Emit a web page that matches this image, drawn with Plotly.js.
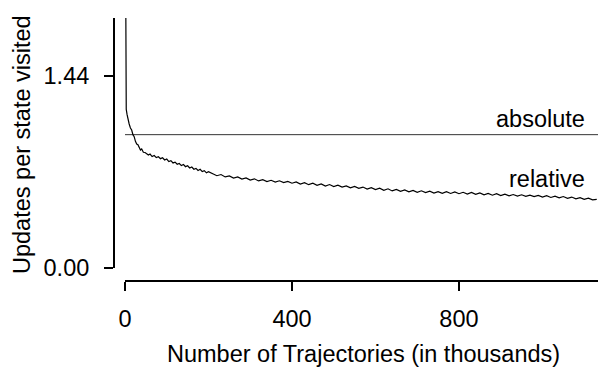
<!DOCTYPE html>
<html>
<head>
<meta charset="utf-8">
<script src="https://cdn.plot.ly/plotly-3.0.1.min.js"></script>
<style>html,body{margin:0;padding:0;background:#fff;}#chart{width:598px;height:368px;}</style>
</head>
<body>
<div id="chart"></div>
<script>
// Number of trajectories (thousands)
const relativeX = [1, 2, 3, 5, 7, 10, 13, 16, 19, 22, 25, 28, 31, 34, 37, 40, 44, 48, 52, 56, 60, 65, 70,
  75, 80, 85, 90, 95, 100, 105, 110, 115, 120, 125, 130, 135, 140, 145, 150, 155, 160, 165, 170, 175, 180,
  185, 190, 195, 200, 210, 220, 230, 240, 250, 260, 270, 280, 290, 300, 310, 320, 330, 340, 350, 360, 370,
  380, 390, 400, 410, 420, 430, 440, 450, 460, 470, 480, 490, 500, 510, 520, 530, 540, 550, 560, 570, 580,
  590, 600, 610, 620, 630, 640, 650, 660, 670, 680, 690, 700, 710, 720, 730, 740, 750, 760, 770, 780, 790,
  800, 810, 820, 830, 840, 850, 860, 870, 880, 890, 900, 910, 920, 930, 940, 950, 960, 970, 980, 990, 1000,
  1010, 1020, 1030, 1040, 1050, 1060, 1070, 1080, 1090, 1100, 1110, 1120, 1130];
// Updates per state visited (relative)
const relativeY = [2.6, 1.30, 1.19, 1.15, 1.11, 1.08, 1.05, 1.035, 1.00, 0.985, 0.95, 0.93, 0.925, 0.90, 0.885, 0.893, 0.868, 0.866, 0.853, 0.848, 0.855, 0.836, 0.844,
  0.828, 0.834, 0.82, 0.827, 0.81, 0.817, 0.798, 0.805, 0.788, 0.794, 0.778, 0.784, 0.768, 0.776, 0.76, 0.767, 0.75, 0.757, 0.741, 0.747, 0.731, 0.74,
  0.723, 0.73, 0.714, 0.722, 0.709, 0.692, 0.701, 0.683, 0.691, 0.675, 0.683, 0.667, 0.676, 0.66, 0.669, 0.653, 0.662, 0.648, 0.658, 0.644, 0.654,
  0.64, 0.65, 0.636, 0.646, 0.63, 0.64, 0.625, 0.636, 0.62, 0.631, 0.615, 0.626, 0.611, 0.621, 0.607, 0.616, 0.601, 0.612, 0.597, 0.607, 0.592,
  0.603, 0.588, 0.599, 0.583, 0.594, 0.578, 0.589, 0.575, 0.585, 0.571, 0.582, 0.568, 0.579, 0.565, 0.576, 0.562, 0.573, 0.56, 0.572, 0.559, 0.57,
  0.557, 0.568, 0.555, 0.567, 0.552, 0.563, 0.549, 0.559, 0.546, 0.557, 0.543, 0.554, 0.541, 0.551, 0.539, 0.549, 0.537, 0.547, 0.535, 0.545, 0.532,
  0.542, 0.529, 0.539, 0.526, 0.536, 0.523, 0.532, 0.519, 0.528, 0.515, 0.524, 0.511, 0.515];
const absoluteX = [0, 1140];
const absoluteY = [1.0, 1.0];

const xTickVals = [0, 400, 800];
const xTickText = ['0', '400', '800'];
const yTickVals = [0, 1.44];
const yTickText = ['0.00', '1.44'];

const xTitle = 'Number of Trajectories (in thousands)';
const yTitle = 'Updates per state visited';

const FONT = 'Liberation Sans, Arial, Helvetica, sans-serif';
const FS = 23.5;
const tf = {family: FONT, size: FS, color: '#000'};

const traces = [
  {x: absoluteX, y: absoluteY, mode: 'lines', line: {color: '#333', width: 1}, hoverinfo: 'none', showlegend: false},
  {x: relativeX, y: relativeY, mode: 'lines', line: {color: '#000', width: 1.2}, hoverinfo: 'none', showlegend: false}
];

const layout = {
  width: 598, height: 368,
  margin: {l: 114, r: 0, t: 18, b: 87, pad: 0},
  paper_bgcolor: '#fff', plot_bgcolor: '#fff',
  font: tf,
  showlegend: false,
  xaxis: {
    domain: [11/484, 1], anchor: 'free', position: 0,
    range: [0, 1133], showgrid: false, zeroline: false,
    showline: true, linecolor: '#000', linewidth: 2,
    ticks: 'outside', ticklen: 9, tickwidth: 2, tickcolor: '#000',
    tickvals: xTickVals, ticktext: xTickText, ticklabelstandoff: 8,
    tickfont: tf
  },
  yaxis: {
    domain: [13/263, 1], anchor: 'free', position: 0,
    range: [0, 1.875], showgrid: false, zeroline: false,
    showline: true, linecolor: '#000', linewidth: 2,
    ticks: 'outside', ticklen: 9, tickwidth: 2, tickcolor: '#000',
    tickvals: yTickVals, ticktext: yTickText, ticklabelstandoff: 10,
    tickfont: tf
  },
  annotations: [
    {xref: 'x', yref: 'y', x: 1107, y: 1.1175, text: 'absolute', showarrow: false, xanchor: 'right', yanchor: 'middle', font: tf},
    {xref: 'x', yref: 'y', x: 1107, y: 0.6675, text: 'relative', showarrow: false, xanchor: 'right', yanchor: 'middle', font: tf},
    {xref: 'paper', yref: 'paper', x: (363.5 - 114) / 484, y: (281 - 354) / 263, text: xTitle, showarrow: false, xanchor: 'center', yanchor: 'middle', font: tf},
    {xref: 'paper', yref: 'paper', x: (22 - 114) / 484, y: (281 - 145) / 263, text: yTitle, textangle: -90, showarrow: false, xanchor: 'center', yanchor: 'middle', font: tf}
  ]
};

Plotly.newPlot('chart', traces, layout, {staticPlot: true, displayModeBar: false});
</script>
</body>
</html>
